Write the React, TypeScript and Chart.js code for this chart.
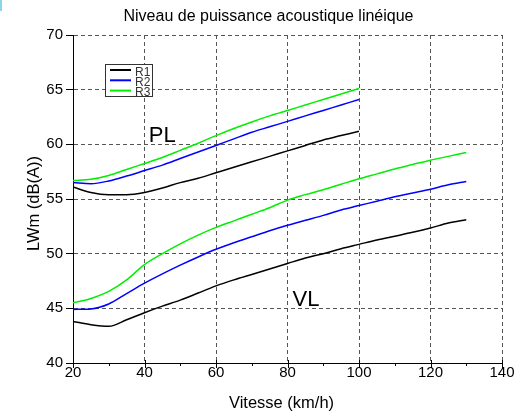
import React, { useEffect, useRef } from 'react';
import { Chart, registerables } from 'chart.js';

Chart.register(...registerables);

// ---------- data ----------
const titleText = 'Niveau de puissance acoustique linéique';
const xTitleText = 'Vitesse (km/h)';
const yTitleText = 'LWm (dB(A))';

const seriesNames = ['R1', 'R2', 'R3'];
const seriesColors = ['#000000', '#0000ff', '#00ee00'];

const speedsPL = [20, 25, 30, 35, 40, 45, 50, 55, 60, 65, 70, 75, 80, 85, 90, 95, 100];
const plR1 = [56.1, 55.6, 55.4, 55.4, 55.6, 56.0, 56.5, 56.9, 57.4, 57.9, 58.4, 58.9, 59.4, 59.9, 60.4, 60.8, 61.2];
const plR2 = [56.5, 56.4, 56.65, 57.1, 57.6, 58.1, 58.7, 59.3, 59.9, 60.5, 61.1, 61.6, 62.1, 62.6, 63.1, 63.6, 64.1];
const plR3 = [56.7, 56.8, 57.15, 57.7, 58.25, 58.8, 59.45, 60.1, 60.8, 61.45, 62.05, 62.6, 63.1, 63.6, 64.1, 64.6, 65.1];

const speedsVL = [20, 25, 30, 35, 40, 45, 50, 55, 60, 65, 70, 75, 80, 85, 90, 95, 100, 105, 110, 115, 120, 125, 130];
const vlR1 = [43.8, 43.5, 43.35, 43.95, 44.6, 45.2, 45.75, 46.4, 47.05, 47.6, 48.1, 48.6, 49.1, 49.6, 50.0, 50.45, 50.85, 51.25, 51.6, 51.95, 52.35, 52.8, 53.1];
const vlR2 = [44.9, 44.95, 45.4, 46.35, 47.3, 48.15, 48.95, 49.7, 50.4, 51.0, 51.55, 52.1, 52.6, 53.05, 53.5, 54.0, 54.4, 54.8, 55.2, 55.55, 55.9, 56.3, 56.6];
const vlR3 = [45.5, 45.9, 46.55, 47.6, 49.0, 50.0, 50.9, 51.7, 52.4, 53.0, 53.6, 54.2, 54.9, 55.4, 55.85, 56.35, 56.85, 57.3, 57.75, 58.15, 58.55, 58.9, 59.25];

const xMin = 20;
const xMax = 140;
const xStep = 20;
const xMinorTicks = [30, 50, 70, 90, 110, 130];
const yMin = 40;
const yMax = 70;
const yStep = 5;

const groupLabels = ['PL', 'VL'];
const groupLabelAnchors = [
  { x: 41.2, y: 60.25 },
  { x: 81.4, y: 45.2 },
];

const FONT = '"Liberation Sans", Arial, Helvetica, sans-serif';

const pts = (xs: number[], ys: number[]) => xs.map((x, i) => ({ x, y: ys[i] }));

const overlayPlugin = {
  id: 'overlay',
  afterDraw(chart: any) {
    const { ctx, chartArea, scales } = chart;
    const xs = scales.x;
    const ys = scales.y;
    ctx.save();

    // x tick marks (major crossing the axis, minor below it)
    ctx.strokeStyle = '#000';
    ctx.lineWidth = 1;
    ctx.setLineDash([]);
    ctx.beginPath();
    for (let v = xMin; v <= xMax; v += xStep) {
      const px = Math.round(xs.getPixelForValue(v)) + 0.5;
      ctx.moveTo(px, chartArea.bottom - 3);
      ctx.lineTo(px, chartArea.bottom + 5);
    }
    for (const v of xMinorTicks) {
      const px = Math.round(xs.getPixelForValue(v)) + 0.5;
      ctx.moveTo(px, chartArea.bottom);
      ctx.lineTo(px, chartArea.bottom + 3);
    }
    ctx.stroke();

    // title
    ctx.fillStyle = '#000';
    ctx.font = `16px ${FONT}`;
    ctx.textAlign = 'center';
    ctx.textBaseline = 'alphabetic';
    ctx.fillText(titleText, 268.5, 21);

    // x axis title
    ctx.font = `16.5px ${FONT}`;
    ctx.fillText(xTitleText, 281.5, 408);

    // y axis title
    ctx.save();
    ctx.translate(38.5, 203.5);
    ctx.rotate(-Math.PI / 2);
    ctx.font = `16.5px ${FONT}`;
    ctx.fillText(yTitleText, 0, 0);
    ctx.restore();

    // group labels
    ctx.font = `22px ${FONT}`;
    ctx.textAlign = 'left';
    groupLabels.forEach((t, i) => {
      const a = groupLabelAnchors[i];
      ctx.fillText(t, xs.getPixelForValue(a.x), ys.getPixelForValue(a.y));
    });

    // legend
    const bx = 105.5, by = 64.5, bw = 47, bh = 32;
    ctx.fillStyle = '#fff';
    ctx.fillRect(bx, by, bw, bh);
    ctx.strokeStyle = '#333';
    ctx.lineWidth = 1;
    ctx.strokeRect(bx, by, bw, bh);
    ctx.font = `12px ${FONT}`;
    seriesNames.forEach((name, i) => {
      const ly = 70 + i * 10.3;
      ctx.strokeStyle = seriesColors[i];
      ctx.lineWidth = 2;
      ctx.beginPath();
      ctx.moveTo(110, ly);
      ctx.lineTo(131, ly);
      ctx.stroke();
      ctx.fillStyle = '#333';
      ctx.fillText(name, 135, ly + 5.5);
    });

    ctx.restore();
  },
};

export default function App() {
  const canvasRef = useRef<HTMLCanvasElement | null>(null);

  useEffect(() => {
    document.body.style.margin = '0';
    const canvas = canvasRef.current;
    if (!canvas) return;
    Chart.defaults.font.family = FONT;

    const mk = (label: string, xs: number[], ys: number[], color: string) => ({
      label,
      data: pts(xs, ys),
      borderColor: color,
      backgroundColor: color,
      borderWidth: 1.5,
      pointRadius: 0,
      fill: false,
      tension: 0.4,
      cubicInterpolationMode: 'monotone' as const,
    });

    const chart = new Chart(canvas, {
      type: 'line',
      data: {
        datasets: [
          mk(seriesNames[0] + ' PL', speedsPL, plR1, seriesColors[0]),
          mk(seriesNames[1] + ' PL', speedsPL, plR2, seriesColors[1]),
          mk(seriesNames[2] + ' PL', speedsPL, plR3, seriesColors[2]),
          mk(seriesNames[0] + ' VL', speedsVL, vlR1, seriesColors[0]),
          mk(seriesNames[1] + ' VL', speedsVL, vlR2, seriesColors[1]),
          mk(seriesNames[2] + ' VL', speedsVL, vlR3, seriesColors[2]),
        ],
      },
      options: {
        responsive: false,
        animation: false,
        devicePixelRatio: 1,
        layout: { padding: { top: 35, right: 27, left: 0, bottom: 0 } },
        plugins: {
          legend: { display: false },
          title: { display: false },
          tooltip: { enabled: false },
        },
        scales: {
          x: {
            type: 'linear',
            min: xMin,
            max: xMax,
            ticks: {
              stepSize: xStep,
              color: '#000',
              font: { size: 15 },
              padding: 1,
              maxRotation: 0,
            },
            grid: {
              color: '#555',
              lineWidth: 1,
              drawTicks: false,
            },
            border: { display: true, color: '#000', width: 1, dash: [4, 3] },
            afterFit: (s: any) => {
              s.height = 49;
            },
          },
          y: {
            type: 'linear',
            min: yMin,
            max: yMax,
            ticks: {
              stepSize: yStep,
              color: '#000',
              font: { size: 15 },
              padding: 3,
            },
            grid: {
              color: '#555',
              lineWidth: 1,
              drawTicks: true,
              tickLength: 7,
              tickColor: '#000',
              tickBorderDash: [],
            },
            border: { display: true, color: '#000', width: 1, dash: [4, 3] },
            afterFit: (s: any) => {
              s.width = 73;
            },
          },
        },
      },
      plugins: [overlayPlugin],
    });

    return () => chart.destroy();
  }, []);

  return (
    <div style={{ position: 'relative', width: 529, height: 412, background: '#fff' }}>
      <canvas ref={canvasRef} width={529} height={412} style={{ display: 'block', width: 529, height: 412 }} />
      <div style={{ position: 'absolute', left: 0, top: 0, width: 2, height: 11, background: '#8fd3ea' }} />
    </div>
  );
}
